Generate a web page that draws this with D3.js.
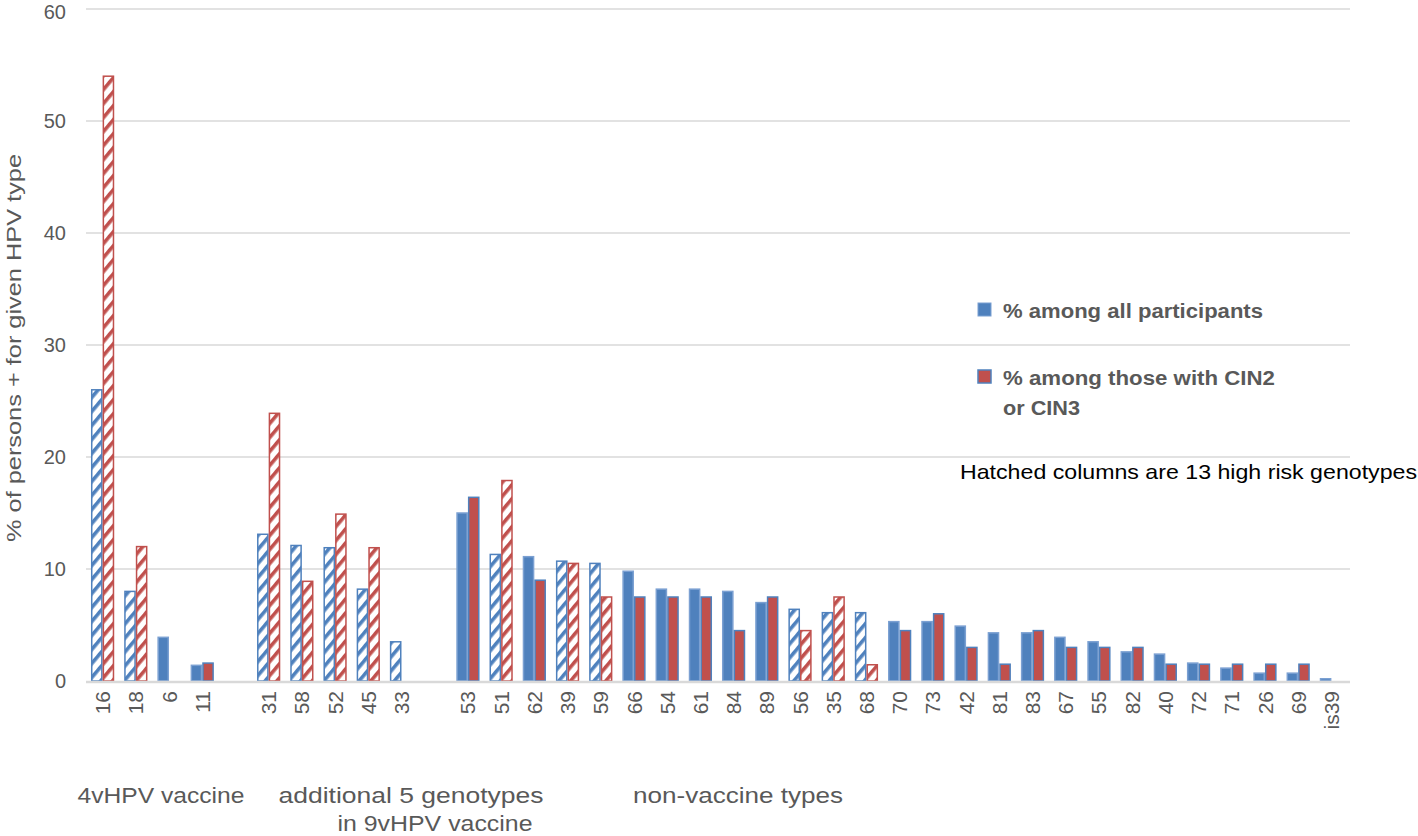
<!DOCTYPE html>
<html>
<head>
<meta charset="utf-8">
<script src="https://cdn.jsdelivr.net/npm/d3@7/dist/d3.min.js"></script>
<style>
  html, body { margin: 0; padding: 0; background: #fff; }
  svg { display: block; font-family: "Liberation Sans", Arial, sans-serif; }
</style>
</head>
<body>
<svg id="chart" width="1418" height="836"></svg>
<script>
// ---- data ----
// null entries are the empty spacer slots between the three groups
const hpvTypes = ["16","18","6","11",null,"31","58","52","45","33",null,
  "53","51","62","39","59","66","54","61","84","89","56","35","68","70","73",
  "42","81","83","67","55","82","40","72","71","26","69","is39"];
const pctAll = [26,8,3.9,1.4,null,13.1,12.1,11.9,8.2,3.5,null,
  15,11.3,11.1,10.7,10.5,9.8,8.2,8.2,8.0,7.0,6.4,6.1,6.1,5.3,5.3,
  4.9,4.3,4.3,3.9,3.5,2.6,2.4,1.6,1.15,0.7,0.7,0.2];
const pctCIN = [54,12,0,1.6,null,23.9,8.9,14.9,11.9,0,null,
  16.4,17.9,9.0,10.5,7.5,7.5,7.5,7.5,4.5,7.5,4.5,7.5,1.45,4.5,6.0,
  3.0,1.5,4.5,3.0,3.0,3.0,1.5,1.5,1.5,1.5,1.5,0];
const highRisk = ["16","18","31","58","52","45","33","51","39","59","56","35","68"];
const yTicks = [0,10,20,30,40,50,60];
const seriesNames = ["% among all participants", "% among those with CIN2\nor CIN3"];
const groupLabels = [
  {lines:["4vHPV vaccine"], first:"16", last:"11"},
  {lines:["additional 5 genotypes","in 9vHPV vaccine"], first:"31", last:"33"},
  {lines:["non-vaccine types"], first:"53", last:"is39"}
];
const note = "Hatched columns are 13 high risk genotypes";

// ---- styles ----
const BLUE = "#4f81bd", BLUE_EDGE = "#7ba0d2", RED = "#c0504d";
const GRID = "#d9d9d9", TXT = "#595959";

const svg = d3.select("#chart");
const defs = svg.append("defs");
function hatch(id, color) {
  const p = defs.append("pattern").attr("id", id)
    .attr("patternUnits", "userSpaceOnUse")
    .attr("width", 9).attr("height", 9)
    .attr("patternTransform", "rotate(40)");
  p.append("rect").attr("width", 9).attr("height", 9).attr("fill", "#fff");
  p.append("rect").attr("x", 0).attr("width", 3.6).attr("height", 9).attr("fill", color);
}
hatch("hBlue", BLUE);
hatch("hRed", RED);

const idx = hpvTypes.map((d, i) => i);
const x = d3.scaleBand().domain(idx).range([86, 1348]).paddingInner(0.3).paddingOuter(0.15);
const x1 = d3.scaleBand().domain([0, 1]).range([0, x.bandwidth()]);
const y = d3.scaleLinear().domain([0, 60]).range([681, 9]);

// gridlines
svg.append("g").selectAll("line").data(yTicks.filter(t => t > 0)).join("line")
  .attr("x1", 86).attr("x2", 1350)
  .attr("y1", d => y(d)).attr("y2", d => y(d))
  .attr("stroke", GRID).attr("stroke-width", 1.5);

// y axis labels
const yAxis = svg.append("g").attr("transform", "translate(66,0)")
  .call(d3.axisLeft(y).tickValues(yTicks).tickSize(0).tickPadding(0));
yAxis.select(".domain").remove();
yAxis.selectAll("text").attr("fill", TXT).style("font-size", "20px")
  .attr("dy", d => d === 60 ? "0.45em" : "0.32em")
  .style("font-family", "'Liberation Sans', Arial, sans-serif");

svg.append("text")
  .attr("transform", "translate(21,348) rotate(-90)")
  .attr("text-anchor", "middle").attr("fill", TXT)
  .style("font-size", "21px")
  .attr("textLength", 388).attr("lengthAdjust", "spacingAndGlyphs")
  .text("% of persons + for given HPV type");

// bars
const barData = [];
hpvTypes.forEach((t, i) => {
  if (t === null) return;
  const hr = highRisk.includes(t);
  barData.push({i, t, s: 0, v: pctAll[i], hr});
  barData.push({i, t, s: 1, v: pctCIN[i], hr});
});
svg.append("g").selectAll("rect").data(barData.filter(d => d.v > 0)).join("rect")
  .attr("x", d => x(d.i) + x1(d.s) + 0.75)
  .attr("width", x1.bandwidth() - 1.5)
  .attr("y", d => y(d.v))
  .attr("height", d => y(0) - y(d.v))
  .attr("fill", d => d.hr ? (d.s === 0 ? "url(#hBlue)" : "url(#hRed)") : (d.s === 0 ? BLUE : RED))
  .attr("stroke", d => d.hr ? (d.s === 0 ? BLUE : RED) : (d.s === 0 ? BLUE_EDGE : BLUE))
  .attr("stroke-width", 1.5);

// baseline
svg.append("line").attr("x1", 86).attr("x2", 1350)
  .attr("y1", y(0) + 1).attr("y2", y(0) + 1)
  .attr("stroke", GRID).attr("stroke-width", 2.5);

// x axis labels (rotated)
const xAxis = svg.append("g").attr("transform", `translate(0,${y(0) + 10})`)
  .call(d3.axisBottom(x).tickSize(0).tickPadding(0)
    .tickFormat(i => hpvTypes[i] === null ? "" : hpvTypes[i]));
xAxis.select(".domain").remove();
xAxis.selectAll("text")
  .attr("transform", "rotate(-90)")
  .attr("text-anchor", "end").attr("dy", "0.36em").attr("x", 0).attr("y", 0)
  .attr("fill", TXT).style("font-size", "21px")
  .style("font-family", "'Liberation Sans', Arial, sans-serif");

// group labels
const glPos = [
  [{x: 161, y: 803, len: 167}],
  [{x: 411, y: 803, len: 265}, {x: 435, y: 831, len: 195}],
  [{x: 738, y: 803, len: 210}]
];
groupLabels.forEach((g, gi) => {
  g.lines.forEach((ln, li) => {
    const p = glPos[gi][li];
    svg.append("text").attr("x", p.x).attr("y", p.y)
      .attr("text-anchor", "middle").attr("fill", TXT)
      .style("font-size", "22px")
      .attr("textLength", p.len).attr("lengthAdjust", "spacingAndGlyphs")
      .text(ln);
  });
});

// legend
const leg = svg.append("g");
leg.append("rect").attr("x", 978).attr("y", 303).attr("width", 13).attr("height", 13)
  .attr("fill", BLUE).attr("stroke", BLUE_EDGE).attr("stroke-width", 1);
leg.append("text").attr("x", 1003).attr("y", 318)
  .attr("fill", TXT).style("font-size", "20px").style("font-weight", "bold")
  .attr("textLength", 260).attr("lengthAdjust", "spacingAndGlyphs")
  .text(seriesNames[0]);
leg.append("rect").attr("x", 978).attr("y", 370).attr("width", 13).attr("height", 13)
  .attr("fill", RED).attr("stroke", BLUE).attr("stroke-width", 1.5);
const l2 = seriesNames[1].split("\n");
leg.append("text").attr("x", 1003).attr("y", 385)
  .attr("fill", TXT).style("font-size", "20px").style("font-weight", "bold")
  .attr("textLength", 272).attr("lengthAdjust", "spacingAndGlyphs")
  .text(l2[0]);
leg.append("text").attr("x", 1003).attr("y", 415)
  .attr("fill", TXT).style("font-size", "20px").style("font-weight", "bold")
  .attr("textLength", 77).attr("lengthAdjust", "spacingAndGlyphs")
  .text(l2[1]);

svg.append("text").attr("x", 960).attr("y", 479)
  .attr("fill", "#000").style("font-size", "21px")
  .attr("textLength", 457).attr("lengthAdjust", "spacingAndGlyphs")
  .text(note);
</script>
</body>
</html>
